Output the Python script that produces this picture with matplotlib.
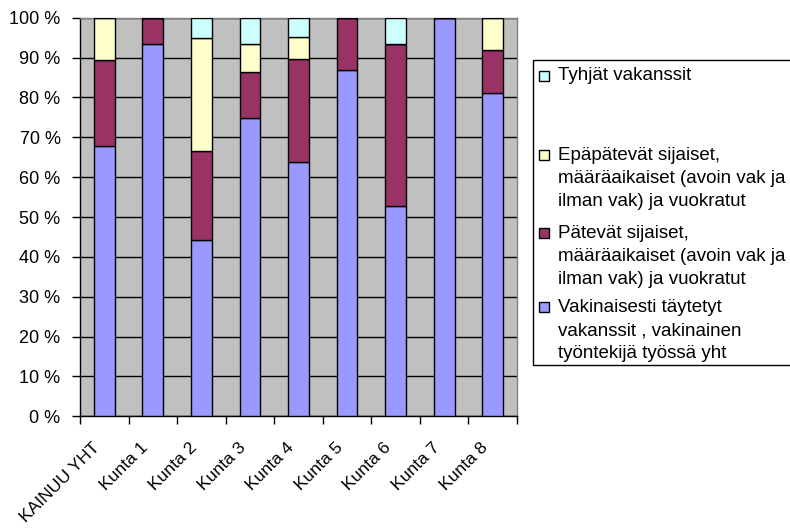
import matplotlib
matplotlib.use("Agg")
import matplotlib.pyplot as plt
from matplotlib.patches import Rectangle
from matplotlib.transforms import ScaledTranslation
import numpy as np

plt.rcParams['font.family'] = ['Liberation Sans', 'DejaVu Sans']

categories = ["KAINUU YHT", "Kunta 1", "Kunta 2", "Kunta 3", "Kunta 4",
              "Kunta 5", "Kunta 6", "Kunta 7", "Kunta 8"]

# Shares (%) per group, bottom to top of each stack
vakinaiset = [67.9, 93.5, 44.3, 74.9, 63.7, 86.9, 52.8, 100.0, 81.2]
patevat    = [21.5,  6.5, 22.3, 11.6, 26.0, 13.1, 40.7,   0.0, 10.8]
epapatevat = [10.6,  0.0, 28.4,  7.0,  5.4,  0.0,  0.0,   0.0,  8.0]
tyhjat     = [ 0.0,  0.0,  5.0,  6.5,  4.9,  0.0,  6.5,   0.0,  0.0]

series_labels = [
    "Vakinaisesti täytetyt\nvakanssit , vakinainen\ntyöntekijä työssä yht",
    "Pätevät sijaiset,\nmääräaikaiset (avoin vak ja\nilman vak) ja vuokratut",
    "Epäpätevät sijaiset,\nmääräaikaiset (avoin vak ja\nilman vak) ja vuokratut",
    "Tyhjät vakanssit",
]
series_colors = ["#9999FF", "#993366", "#FFFFCC", "#CCFFFF"]
series_values = [vakinaiset, patevat, epapatevat, tyhjat]

W, H = 790, 528
fig = plt.figure(figsize=(W / 100, H / 100), dpi=100)
ax = fig.add_axes([80 / W, 1 - 416.3 / H, 437 / W, (416.3 - 17.7) / H])
ax.set_facecolor("#C0C0C0")

x = np.arange(len(categories))
bottom = np.zeros(len(categories))
for vals, col in zip(series_values, series_colors):
    v = np.array(vals)
    ax.bar(x, v, width=0.43, bottom=bottom, color=col,
           edgecolor="black", linewidth=1.0, zorder=3)
    bottom += v

ax.set_xlim(-0.5, len(categories) - 0.5)
ax.set_ylim(0, 100)
ax.set_yticks(np.arange(0, 101, 10))
ax.set_yticklabels([f"{v} %" for v in range(0, 101, 10)], fontsize=13)
ax.yaxis.grid(True, color="black", linewidth=1.0, zorder=1)
ax.set_axisbelow(True)

ax.set_xticks(x)
ax.set_xticklabels(categories, fontsize=12.6, rotation=45, ha="right",
                   va="center", rotation_mode="anchor")
ax.tick_params(axis="x", which="major", length=0, pad=16)
shift = ScaledTranslation(-0.07, -0.07, fig.dpi_scale_trans)
for lbl in ax.get_xticklabels():
    lbl.set_transform(lbl.get_transform() + shift)
ax.set_xticks(np.arange(-0.5, len(categories), 1.0), minor=True)
ax.tick_params(axis="x", which="minor", length=6, width=1, color="black",
               direction="out")
ax.tick_params(axis="y", length=6, width=1, direction="out", pad=8)

for side in ("left", "bottom"):
    ax.spines[side].set_color("black")
    ax.spines[side].set_linewidth(1.0)
for side in ("right", "top"):
    ax.spines[side].set_color("#808080")
    ax.spines[side].set_linewidth(1.0)


def fx(px):
    return px / W


def fy(py):
    return 1 - py / H


# Legend frame and entries
fig.patches.append(Rectangle((fx(533), fy(365)), fx(300), (365 - 60) / H,
                             transform=fig.transFigure, facecolor="white",
                             edgecolor="black", linewidth=1.0))
first_line_y = [307, 233, 155, 76]
line_step = 23.5
for label, col, y0 in zip(series_labels, series_colors, first_line_y):
    fig.patches.append(Rectangle((fx(539), fy(y0 + 5)), fx(10), 10 / H,
                                 transform=fig.transFigure, facecolor=col,
                                 edgecolor="black", linewidth=1.0))
    for i, line in enumerate(label.split("\n")):
        fig.text(fx(558), fy(y0 + i * line_step), line, fontsize=13.5,
                 ha="left", va="center")

fig.savefig("out.png", dpi=100)
